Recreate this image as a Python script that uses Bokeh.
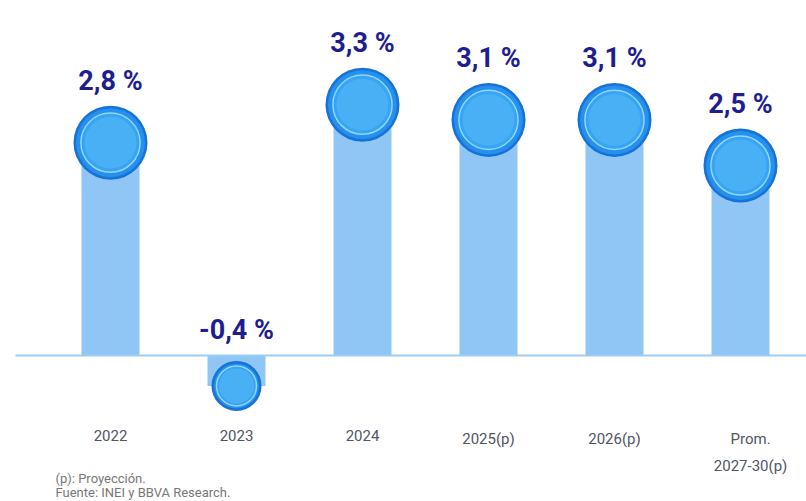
from bokeh.plotting import figure
from bokeh.models import Range1d, Label, ColumnDataSource
from bokeh.core.properties import value
from bokeh.embed import file_html
from bokeh.resources import INLINE

categories = ["2022", "2023", "2024", "2025(p)", "2026(p)", "Prom.\n2027-30(p)"]
values = [2.8, -0.4, 3.3, 3.1, 3.1, 2.5]
value_labels = ["2,8 %", "-0,4 %", "3,3 %", "3,1 %", "3,1 %", "2,5 %"]

W, H = 806, 501
PX_X = 126.0   # pixels per x unit
PX_Y = 76.0    # pixels per y unit
X0 = 110.0     # screen x of first category
Y0 = 355.0     # screen y (from top) of zero line

p = figure(width=W, height=H, output_backend="svg", toolbar_location=None,
           x_range=Range1d(-X0 / PX_X, (W - X0) / PX_X),
           y_range=Range1d(-(H - Y0) / PX_Y, Y0 / PX_Y),
           min_border=0, min_border_left=0, min_border_right=0,
           min_border_top=0, min_border_bottom=0)
p.axis.visible = False
p.grid.visible = False
p.outline_line_color = None
p.background_fill_color = "white"
p.border_fill_color = "white"

xs = list(range(len(categories)))
radii = [37 if v >= 0 else 25 for v in values]

# bars
p.vbar(x=xs, bottom=0, top=values, width=58 / PX_X, fill_color="#90c6f5",
       line_color=None)

# zero line
p.segment(x0=[-95 / PX_X], x1=[(W - X0) / PX_X], y0=[0], y1=[0],
          line_color="#9ccdf6", line_width=2)

# bubbles (layered to imitate gradient)
src = ColumnDataSource(dict(x=xs, y=values, r=radii,
                            r2=[r - 2.5 for r in radii],
                            r3=[r * 0.80 for r in radii],
                            r4=[r * 0.70 for r in radii]))
p.circle(x="x", y="y", radius="r", radius_units="screen", fill_color="#1572d8",
         line_color=None, source=src)
p.circle(x="x", y="y", radius="r2", radius_units="screen", fill_color="#2690ec",
         line_color=None, source=src)
p.circle(x="x", y="y", radius="r3", radius_units="screen", fill_color="#38a4f3",
         line_color="#8fd6fb", line_width=1.5, source=src)
p.circle(x="x", y="y", radius="r4", radius_units="screen", fill_color="#4db3f6",
         line_color=None, fill_alpha=0.85, source=src)

# value labels
pos = [i for i, v in enumerate(values) if v >= 0]
neg = [i for i, v in enumerate(values) if v < 0]
lab_font = value("Roboto")
p.text(x=[xs[i] for i in pos], y=[values[i] for i in pos],
       text=[value_labels[i] for i in pos], y_offset=-62,
       text_align="center", text_baseline="middle", text_font=lab_font,
       text_font_style="bold", text_font_size="27px", text_color="#1e1e90")
p.text(x=[xs[i] for i in neg], y=[0 for i in neg],
       text=[value_labels[i] for i in neg], y_offset=-26,
       text_align="center", text_baseline="middle", text_font=lab_font,
       text_font_style="bold", text_font_size="27px", text_color="#1e1e90")

# category labels
cat_x = [x + (0.08 if "\n" in c else 0) for x, c in zip(xs, categories)]
p.text(x=cat_x, y=[0] * len(xs), text=categories, y_offset=74,
       text_align="center", text_baseline="top", text_font=value("Roboto"),
       text_font_size="15px", text_color="#4f5563", text_line_height=1.5)

# footnotes
p.add_layout(Label(x=55, y=23, x_units="screen", y_units="screen",
                   text="(p): Proyección.", text_font="Roboto",
                   text_font_size="13px", text_color="#777777",
                   text_baseline="middle"))
p.add_layout(Label(x=55, y=9, x_units="screen", y_units="screen",
                   text="Fuente: INEI y BBVA Research.", text_font="Roboto",
                   text_font_size="13px", text_color="#777777",
                   text_baseline="middle"))

open("out.html", "w").write(file_html(p, INLINE))
